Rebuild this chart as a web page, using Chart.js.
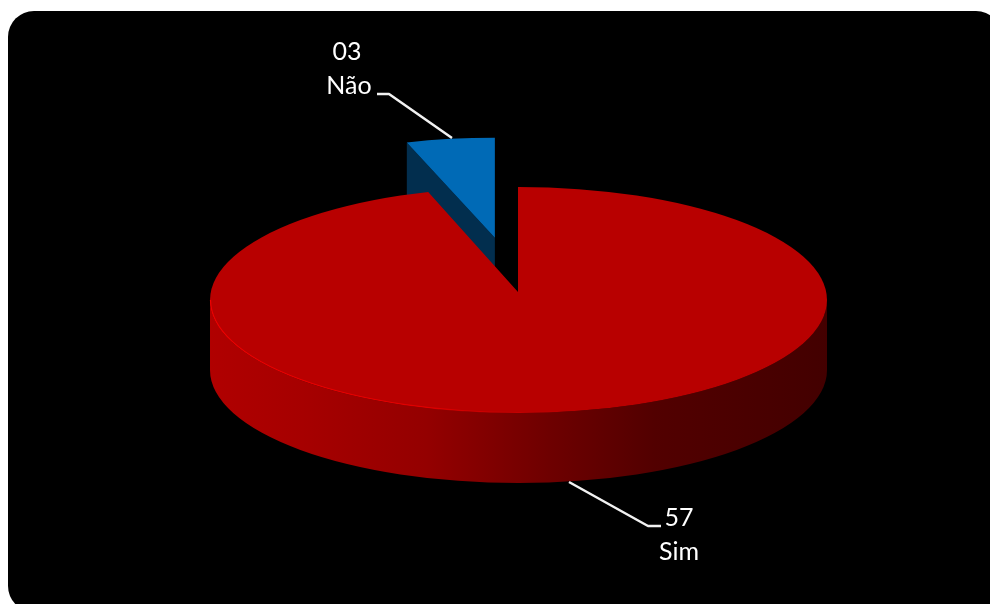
<!DOCTYPE html>
<html>
<head>
<meta charset="utf-8">
<style>
  html, body { margin: 0; padding: 0; background: #fff; overflow: hidden; }
  .card { position: absolute; left: 8px; top: 11px; width: 994px; height: 601px; background: #000; border-radius: 26px; }
  #wrap { position: absolute; left: 0; top: 0; width: 990px; height: 604px; }
</style>
</head>
<body>
<div class="card"></div>
<div id="wrap"><canvas id="pie"></canvas></div>
<script src="https://cdn.jsdelivr.net/npm/chart.js@4/dist/chart.umd.min.js"></script>
<script>
const categories = ['Sim', 'Não'];
const values = [57, 3];
const sliceColors = ['#b80000', '#006ab6'];

const depth = 70;
const explode = 172;

// outline of the red disc, relative to the point of the slice
const discRx = 308.5;
const discRy = 113;
const discDrop = 8;
const discShift = 0.5;

// squash of the slices, in px per chart radius (red one gets clipped to the disc)
const nearX = 340;
const nearY = 123;
const farX = 285;
const farY = 100;

function drawRedWall(ctx, el) {
  const cx = el.x + discShift;
  const cy = el.y + discDrop;
  const grad = ctx.createLinearGradient(cx - discRx, 0, cx + discRx, 0);
  grad.addColorStop(0, '#b00000');
  grad.addColorStop(0.15, '#a60000');
  grad.addColorStop(0.35, '#940000');
  grad.addColorStop(0.55, '#6e0000');
  grad.addColorStop(0.72, '#520000');
  grad.addColorStop(1, '#430000');
  ctx.beginPath();
  ctx.ellipse(cx, cy, discRx, discRy, 0, 0, Math.PI);
  ctx.ellipse(cx, cy + depth, discRx, discRy, 0, Math.PI, 0, true);
  ctx.closePath();
  ctx.fillStyle = grad;
  ctx.fill();
}

function drawRedRim(ctx, el) {
  const cx = el.x + discShift;
  const rim = ctx.createLinearGradient(cx - discRx, 0, cx + discRx, 0);
  rim.addColorStop(0, '#ee0000');
  rim.addColorStop(0.35, '#e00000');
  rim.addColorStop(0.62, 'rgba(200,0,0,0)');
  ctx.beginPath();
  ctx.ellipse(cx, el.y + discDrop, discRx - 0.5, discRy - 0.5, 0, 0, Math.PI);
  ctx.strokeStyle = rim;
  ctx.lineWidth = 1.2;
  ctx.stroke();
}

function drawNearSlice(ctx, el) {
  const R = el.outerRadius;
  ctx.save();
  ctx.beginPath();
  ctx.ellipse(el.x + discShift, el.y + discDrop, discRx, discRy, 0, 0, Math.PI * 2);
  ctx.clip();
  ctx.translate(el.x, el.y);
  ctx.scale(nearX / R, nearY / R);
  ctx.translate(-el.x, -el.y);
  el.draw(ctx);
  ctx.restore();
}

function drawFarSlice(ctx, el) {
  const R = el.outerRadius;
  const mid = (el.startAngle + el.endAngle) / 2;
  const ax = el.x + Math.cos(mid) * explode * 0.86;
  const ay = el.y + Math.sin(mid) * explode * 0.32;
  const lx = ax + Math.cos(el.startAngle) * farX;
  const ly = ay + Math.sin(el.startAngle) * farY;

  ctx.beginPath();
  ctx.moveTo(lx, ly);
  ctx.lineTo(ax, ay);
  ctx.lineTo(ax, ay + depth);
  ctx.lineTo(lx, ly + depth);
  ctx.closePath();
  ctx.fillStyle = '#022e4e';
  ctx.fill();

  ctx.save();
  ctx.translate(ax, ay);
  ctx.scale(farX / R, farY / R);
  ctx.translate(-el.x, -el.y);
  el.draw(ctx);
  ctx.restore();
}

function leader(ctx, pts) {
  ctx.beginPath();
  pts.forEach(([x, y], i) => (i ? ctx.lineTo(x, y) : ctx.moveTo(x, y)));
  ctx.stroke();
}

const pie3d = {
  id: 'pie3d',
  beforeDatasetDraw(chart) {
    const ctx = chart.ctx;
    const arcs = chart.getDatasetMeta(0).data;
    drawFarSlice(ctx, arcs[1]);
    drawRedWall(ctx, arcs[0]);
    drawNearSlice(ctx, arcs[0]);
    drawRedRim(ctx, arcs[0]);
    return false;
  },
  afterDraw(chart) {
    const ctx = chart.ctx;
    ctx.save();
    ctx.strokeStyle = '#f2f2f2';
    ctx.lineWidth = 2.5;
    ctx.lineJoin = 'round';
    leader(ctx, [[377, 94], [389, 94], [452, 138]]);
    leader(ctx, [[569, 482], [648, 526], [661, 526]]);
    ctx.fillStyle = '#ffffff';
    ctx.font = '25px Lato, "Open Sans", sans-serif';
    ctx.textAlign = 'center';
    ctx.textBaseline = 'alphabetic';
    const text = (i) => String(values[i]).padStart(2, '0');
    ctx.fillText(text(1), 347, 60);
    ctx.fillText(categories[1], 349, 94);
    ctx.fillText(text(0), 679, 526);
    ctx.fillText(categories[0], 679, 560);
    ctx.restore();
  },
};

new Chart(document.getElementById('pie').getContext('2d'), {
  type: 'pie',
  data: {
    labels: categories,
    datasets: [{
      data: values,
      backgroundColor: sliceColors,
      borderWidth: 0,
    }],
  },
  options: {
    responsive: true,
    maintainAspectRatio: false,
    animation: false,
    events: [],
    layout: { padding: { left: 46, bottom: 20 } },
    plugins: {
      legend: { display: false },
      tooltip: { enabled: false },
    },
  },
  plugins: [pie3d],
});
</script>
</body>
</html>
